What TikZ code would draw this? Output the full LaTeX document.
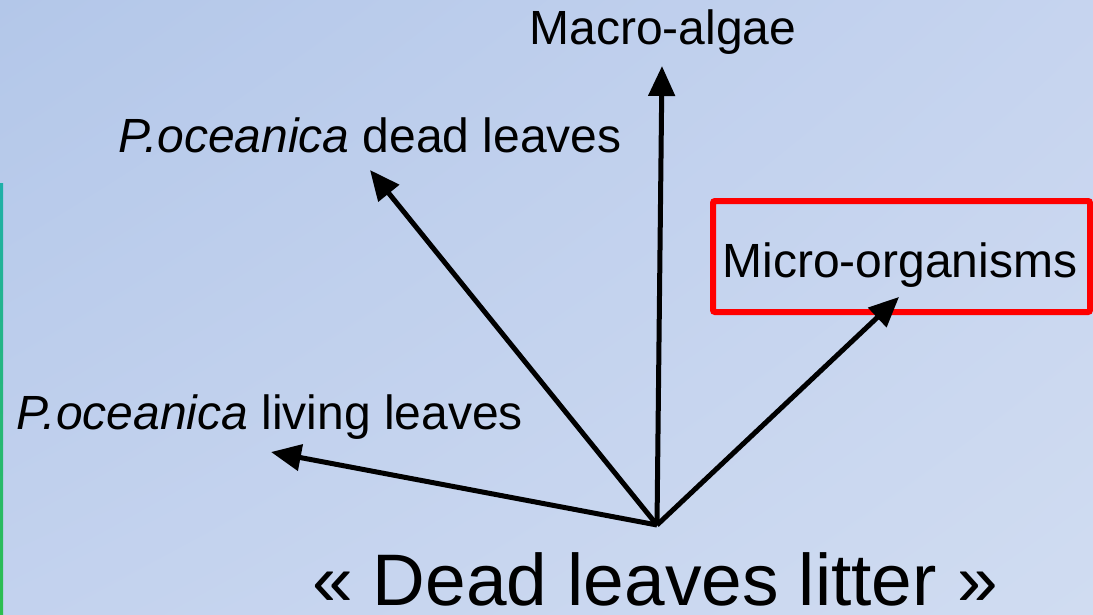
\documentclass[tikz,border=0pt]{standalone}
\usepackage{fontspec}
\setmainfont{Liberation Sans}
\usetikzlibrary{arrows.meta,shadings}
\definecolor{bgA}{HTML}{B3C7E9}
\definecolor{bgB}{HTML}{C6D4EF}
\definecolor{bgC}{HTML}{C3D2EE}
\definecolor{bgD}{HTML}{D0DCF1}
\definecolor{stripTop}{HTML}{1FB0A8}
\definecolor{stripBot}{HTML}{2DBE4E}
\definecolor{boxred}{HTML}{FF0000}
\tikzset{
  lbl/.style={inner sep=0pt, font=\fontsize{48}{56}\selectfont, anchor=base},
  bigl/.style={inner sep=0pt, font=\fontsize{73}{84}\selectfont, anchor=base},
  arr/.style={line width=5pt, -{Triangle[length=30pt,width=26pt]}},
  redbox/.style={draw=boxred, line width=6pt, rounded corners=2pt}
}
\begin{document}
\begin{tikzpicture}[x=1pt,y=-1pt]
\useasboundingbox (0,0) rectangle (1093,614);
\shade[upper left=bgA, upper right=bgB, lower left=bgC, lower right=bgD] (0,0) rectangle (1093,614);
\shade[top color=stripTop, bottom color=stripBot] (0,183) rectangle (3,614);
% labels
\node[lbl] (macro) at (663,44) {Macro-algae};
\node[lbl] (dead) at (370,152) {\itshape P.oceanica\upshape{} dead leaves};
\node[lbl] (micro) at (900,277) {Micro-organisms};
\node[lbl] (living) at (270,429) {\itshape P.oceanica\upshape{} living leaves};
\node[bigl] (litter) at (655,605) {« Dead leaves litter »};
\draw[redbox] (713,201) rectangle (1090,312);
% arrows
\coordinate (o) at (657,525);
\coordinate (tmacro) at (662,66);
\coordinate (tdead) at (370,170);
\coordinate (tmicro) at (899,297);
\coordinate (tliving) at (271,452);
\draw[arr] (o) -- (tmacro);
\draw[arr] (o) -- (tdead);
\draw[arr] (o) -- (tmicro);
\draw[arr] (o) -- (tliving);
\end{tikzpicture}
\end{document}
